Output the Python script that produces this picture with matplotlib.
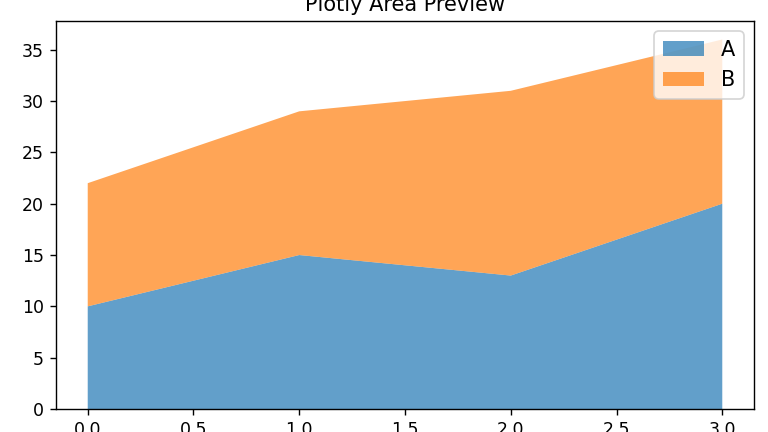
import numpy as np
import matplotlib
matplotlib.use("Agg")
import matplotlib.pyplot as plt

x = [0, 1, 2, 3]
series_a = [10, 15, 13, 20]
series_b = [12, 14, 18, 16]
labels = ["A", "B"]

# drawn at 125 dpi so text and ticks come out at the reference's scale
dpi = 125
fig = plt.figure(figsize=(768 / dpi, 432 / dpi), dpi=dpi)
ax = fig.add_axes([56 / 768, 23 / 432, 698 / 768, 388 / 432])
ax.stackplot(x, series_a, series_b, labels=labels, alpha=0.7)
ax.set_title("Plotly Area Preview")
ax.legend(loc="upper right", fontsize=12)

fig.savefig("out.png", dpi=dpi)
